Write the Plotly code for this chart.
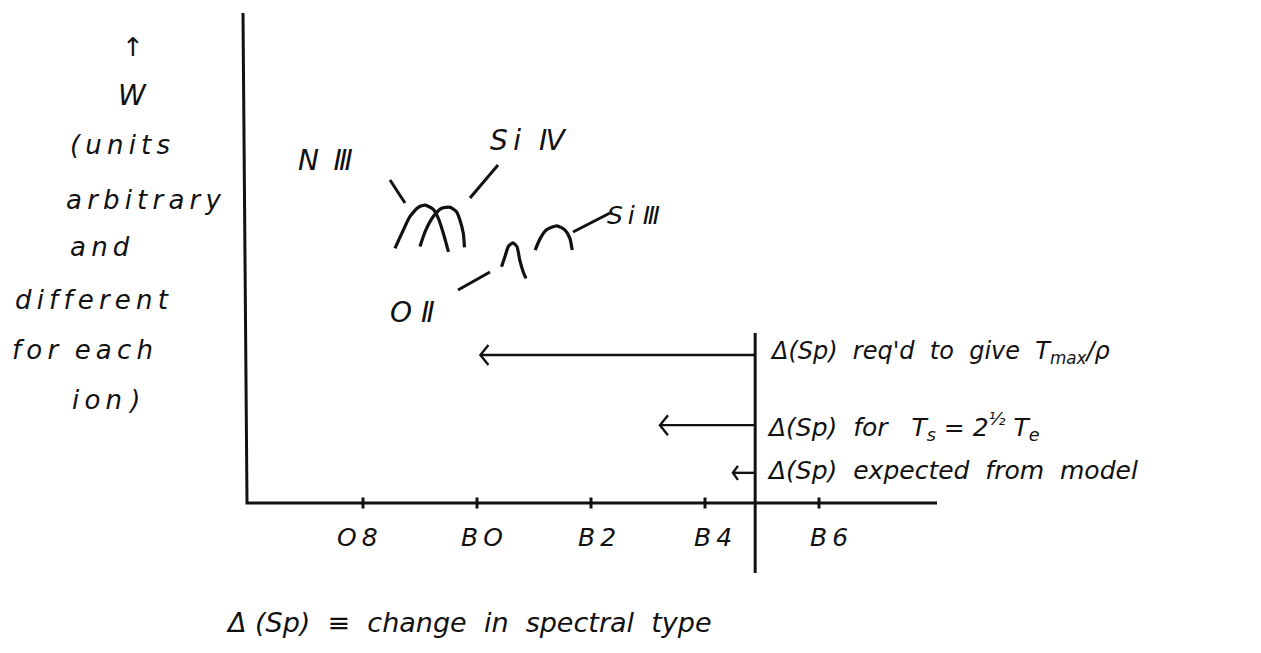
import plotly.graph_objects as go

# Spectral subtype scale along x: O8 = -2, B0 = 0, B2 = 2, B4 = 4, B6 = 6
tick_subtypes = [-2, 0, 2, 4, 6]
tick_labels = ["O8", "BO", "B2", "B4", "B6"]

# Schematic line strengths W (arbitrary units) against spectral subtype
n3_sp = [-1.44, -1.32, -1.18, -1.03, -0.91, -0.77, -0.68, -0.59, -0.50]
n3_w = [5.66, 5.99, 6.36, 6.57, 6.62, 6.53, 6.33, 5.99, 5.58]

si4_sp = [-1.00, -0.91, -0.77, -0.62, -0.47, -0.36, -0.30, -0.24, -0.22]
si4_w = [5.70, 6.03, 6.36, 6.55, 6.57, 6.47, 6.29, 5.99, 5.68]

o2_sp = [0.43, 0.49, 0.55, 0.63, 0.70, 0.75, 0.81, 0.86]
o2_w = [5.25, 5.47, 5.70, 5.78, 5.70, 5.40, 5.14, 4.99]

si3_sp = [1.02, 1.11, 1.22, 1.40, 1.54, 1.63, 1.67]
si3_w = [5.62, 5.88, 6.07, 6.16, 6.07, 5.88, 5.62]

# Shifts in spectral type measured back from the reference type
reference_sp = 4.88
shift_labels = ["required", "ts", "model"]
shift_sizes = [4.82, 1.67, 0.39]
shift_levels = [3.29, 1.73, 0.67]

# ---- page geometry: the whole canvas is one data frame ----
W_PX, H_PX = 1261, 653
PX0, PX_PER_SP = 477.0, 57.0      # pixel column of B0, pixels per subtype
PY0, PX_PER_W = 503.0, 45.0       # pixel row of W = 0, pixels per W unit


def X(px):
    return (px - PX0) / PX_PER_SP


def Y(py):
    return (PY0 - py) / PX_PER_W


INK = "#111111"
LW = 2.6
FONT = "DejaVu Sans"
THIN = "\u2009"

fig = go.Figure()


def stroke(xs, ys, width=LW):
    fig.add_trace(go.Scatter(x=xs, y=ys, mode="lines",
                             line=dict(color=INK, width=width, shape="spline", smoothing=0.6),
                             hoverinfo="skip", showlegend=False))


def seg(xs, ys, width=LW):
    fig.add_trace(go.Scatter(x=xs, y=ys, mode="lines",
                             line=dict(color=INK, width=width),
                             hoverinfo="skip", showlegend=False))


def spaced(text):
    # loose hand lettering: a thin space between the letters of each word
    return " ".join(THIN.join(word) for word in text.split(" "))


# axes drawn by hand: vertical W axis and horizontal spectral-type axis
axis_left, axis_right = X(247), X(937)
w_top = Y(13)
seg([X(243), axis_left, axis_right], [w_top, 0, 0], width=3)

# tick marks crossing the spectral-type axis
tick_half = 5.5 / PX_PER_W
for sp in tick_subtypes:
    seg([sp, sp], [-tick_half, tick_half], width=3)

# curves for each ion
for xs, ys in [(n3_sp, n3_w), (si4_sp, si4_w), (o2_sp, o2_w), (si3_sp, si3_w)]:
    stroke(xs, ys, width=3.2)

# leader strokes from the labels to the curves
seg([X(390), X(405)], [Y(180), Y(203)], width=3)      # N III
seg([X(498), X(470)], [Y(165), Y(198)], width=3)      # Si IV
seg([X(573), X(612)], [Y(232), Y(212)], width=3)      # Si III
seg([X(458), X(490)], [Y(290), Y(272)], width=3)      # O II

# reference vertical line at the observed type
seg([reference_sp, reference_sp], [Y(333), Y(573)], width=3)

# arrows showing the shifts in spectral type
for size, level, name in zip(shift_sizes, shift_levels, shift_labels):
    tip = reference_sp - size
    seg([reference_sp, tip], [level, level], width=2.4)
    hx = (8 if name != "model" else 5) / PX_PER_SP
    hy = (10 if name != "model" else 7) / PX_PER_W
    seg([tip + hx, tip, tip + hx], [level + hy, level, level - hy], width=2.4)


def note(px, py, text, size, anchor="left"):
    fig.add_annotation(x=X(px), y=Y(py), xref="x", yref="y", text=text,
                       showarrow=False, xanchor=anchor, yanchor="middle",
                       font=dict(family=FONT, size=size, color=INK, style="italic"))


# y-axis label
note(133, 47, "↑", 26, "center")
note(132, 95, "W", 28, "center")
note(68, 145, spaced("(units"), 26)
note(64, 200, spaced("arbitrary"), 26)
note(68, 247, spaced("and"), 26)
note(13, 300, spaced("different"), 26)
note(10, 350, spaced("for  each"), 26)
note(70, 400, spaced("ion )"), 26)

# ion labels
note(296, 160, "N" + THIN + " Ⅲ", 28)
note(488, 140, "S" + THIN + "i  Ⅳ", 28)
note(388, 312, "O Ⅱ", 28)
note(605, 215, "S" + THIN + "i Ⅲ", 25)

# spectral type tick labels (hand-lettered, slightly right of each tick)
label_nudge_px = [-6, 5, 6, 8, 10]
for sp, lab, nudge in zip(tick_subtypes, tick_labels, label_nudge_px):
    fig.add_annotation(x=sp + nudge / PX_PER_SP, y=Y(537), xref="x", yref="y", text=spaced(lab),
                       showarrow=False, xanchor="center", yanchor="middle",
                       font=dict(family=FONT, size=25, color=INK, style="italic"))

# shift legends
note(768, 352, "Δ(Sp)  req'd  to  give  T<sub>max</sub>/ρ", 24)
note(765, 427, "Δ(Sp)  for   T<sub>s</sub> = 2<sup>½</sup> T<sub>e</sub>", 25)
note(765, 470, "Δ(Sp)  expected  from  model", 25)

# caption
note(224, 622, "Δ (Sp)  ≡  change  in  spectral  type", 27)

fig.update_layout(
    width=W_PX, height=H_PX,
    margin=dict(l=0, r=0, t=0, b=0),
    paper_bgcolor="white", plot_bgcolor="white",
    xaxis=dict(range=[X(0), X(W_PX)], visible=False, fixedrange=True),
    yaxis=dict(range=[Y(H_PX), Y(0)], visible=False, fixedrange=True),
    showlegend=False,
)

fig.write_html("out.html")
